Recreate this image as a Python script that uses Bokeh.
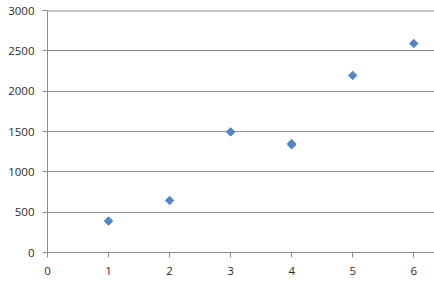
import math
from bokeh.plotting import figure
from bokeh.models import FixedTicker, Span, Range1d
from bokeh.embed import file_html
from bokeh.resources import INLINE

x_values = [1, 2, 3, 4, 4, 5, 6]
y_values = [390, 645, 1495, 1335, 1350, 2195, 2590]
x_ticks = [0, 1, 2, 3, 4, 5, 6]
y_ticks = [0, 500, 1000, 1500, 2000, 2500, 3000]

p = figure(width=434, height=292, output_backend="svg", toolbar_location=None,
           x_range=Range1d(0, 6.34), y_range=Range1d(0, 3000),
           min_border_left=47, min_border_right=0, min_border_top=10, min_border_bottom=40)
p.outline_line_color = None
p.background_fill_color = "white"
p.border_fill_color = "white"

p.scatter(x_values, y_values, marker="square", angle=math.pi / 4, size=6,
          color="#5187C8", line_color="#5187C8")

grid_color = "#8C8C8C"
p.xgrid.grid_line_color = None
p.ygrid.ticker = FixedTicker(ticks=y_ticks)
p.ygrid.grid_line_color = grid_color
p.ygrid.grid_line_width = 1

top = Span(location=3000, dimension="width", line_color=grid_color, line_width=2)
p.add_layout(top)

for ax, ticks in ((p.xaxis[0], x_ticks), (p.yaxis[0], y_ticks)):
    ax.ticker = FixedTicker(ticks=ticks)
    ax.axis_line_color = grid_color
    ax.major_tick_line_color = grid_color
    ax.major_tick_out = 5
    ax.major_tick_in = 0
    ax.minor_tick_line_color = None
    ax.major_label_text_font = "Open Sans"
    ax.major_label_text_font_size = "11.5px"
    ax.major_label_text_color = "#2b2b2b"

p.yaxis[0].major_label_standoff = 8
p.xaxis[0].major_label_standoff = 9

open("out.html", "w").write(file_html(p, INLINE))
